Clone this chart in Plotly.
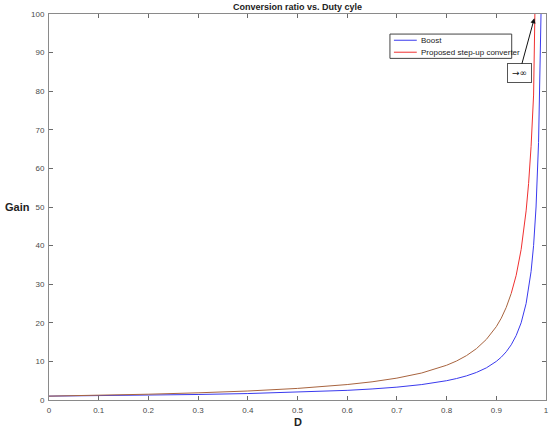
import plotly.graph_objects as go

# duty cycle samples
duty = [0, 0.1, 0.2, 0.3, 0.4, 0.5, 0.6, 0.65, 0.7, 0.75, 0.78, 0.8, 0.82, 0.84,
        0.86, 0.88, 0.9, 0.91, 0.92, 0.93, 0.94, 0.95, 0.96, 0.965, 0.97, 0.975,
        0.98, 0.985, 0.99]
boost_gain = [1.0, 1.11, 1.25, 1.43, 1.67, 2.0, 2.5, 2.86, 3.33, 4.0, 4.55, 5.0, 5.56, 6.25,
              7.14, 8.33, 10.0, 11.1, 12.5, 14.3, 16.7, 20.0, 25.0, 28.6, 33.3, 40.0,
              50.0, 66.7, 100.0]
proposed_gain = [1.0, 1.22, 1.5, 1.86, 2.33, 3.0, 4.0, 4.71, 5.67, 7.0, 8.09, 9.0, 10.1, 11.5,
                 13.3, 15.7, 19.0, 21.2, 24.0, 27.6, 32.3, 39.0, 49.0, 56.1, 65.7, 79.0,
                 99.0, 132.3, 199.0]

x_ticks = [0, 0.1, 0.2, 0.3, 0.4, 0.5, 0.6, 0.7, 0.8, 0.9, 1]
x_tick_text = ["0", "0.1", "0.2", "0.3", "0.4", "0.5", "0.6", "0.7", "0.8", "0.9", "1"]
y_ticks = [0, 10, 20, 30, 40, 50, 60, 70, 80, 90, 100]

series_names = ["Boost", "Proposed step-up converter"]
series_colours = ["#3a3aee", "#f03030"]

font_family = "Liberation Sans, Arial, sans-serif"
split = 19  # index where the proposed curve turns from brown to red

fig = go.Figure()
fig.add_trace(go.Scatter(x=duty, y=boost_gain, name=series_names[0], mode="lines",
                         line=dict(color=series_colours[0], width=1)))
fig.add_trace(go.Scatter(x=duty[split:], y=proposed_gain[split:], name=series_names[1],
                         mode="lines", line=dict(color=series_colours[1], width=1)))
fig.add_trace(go.Scatter(x=duty[:split + 1], y=proposed_gain[:split + 1],
                         mode="lines", line=dict(color="#a8643f", width=1)))

axis_common = dict(showgrid=False, zeroline=False, showline=True, mirror="ticks",
                   linecolor="#8a8a8a", linewidth=1, ticks="inside", ticklen=4,
                   tickcolor="#6a6a6a", tickfont=dict(size=8, color="#4a4a4a"),
                   ticklabelstandoff=2, automargin=False)

fig.update_layout(
    width=550, height=430,
    margin=dict(l=49, r=4, t=14, b=30),
    paper_bgcolor="white", plot_bgcolor="white",
    font=dict(family=font_family, color="#222222"),
    xaxis=dict(range=[0, 1], tickvals=x_ticks, ticktext=x_tick_text, **axis_common),
    yaxis=dict(range=[0, 100], tickvals=y_ticks, **axis_common),
    showlegend=False,
)

# small MATLAB-style legend box
lx0, lx1, ly0, ly1 = 0.686, 0.931, 0.885, 0.948
fig.add_shape(type="rect", xref="paper", yref="paper", x0=lx0, x1=lx1, y0=ly0, y1=ly1,
              line=dict(color="#444444", width=1), fillcolor="white")
for i, (name, colour) in enumerate(zip(series_names, series_colours)):
    ly = ly1 - 0.016 - i * 0.031
    fig.add_shape(type="line", xref="paper", yref="paper", x0=lx0 + 0.008, x1=lx0 + 0.054,
                  y0=ly, y1=ly, line=dict(color=colour, width=1))
    fig.add_annotation(text=name, xref="paper", yref="paper", x=lx0 + 0.059, y=ly,
                       xanchor="left", yanchor="middle", showarrow=False,
                       font=dict(size=8, color="#222222"))

fig.add_annotation(text="<b>Conversion ratio vs. Duty cyle</b>", xref="paper", yref="paper",
                   x=0.5, y=1, xanchor="center", yanchor="bottom", showarrow=False,
                   font=dict(size=9, color="#222222"))
fig.add_annotation(text="<b>Gain</b>", xref="paper", yref="paper", x=0, y=0.5, xshift=-32,
                   xanchor="center", yanchor="middle", showarrow=False,
                   font=dict(size=11, color="#222222"))
fig.add_annotation(text="<b>D</b>", xref="paper", yref="paper", x=0.5, y=0, xanchor="center",
                   yanchor="top", yshift=-14, showarrow=False, font=dict(size=11, color="#222222"))
fig.add_annotation(text="→∞", x=0.9765, y=98.9, xref="x", yref="y", ax=-15, ay=55,
                   showarrow=True, arrowhead=2, arrowsize=1, arrowwidth=1, arrowcolor="#111111",
                   bgcolor="white", bordercolor="#555555", borderwidth=1, borderpad=4,
                   font=dict(size=9, family="DejaVu Sans", color="#111111"))

# the page's default 8px body margin would push the figure off the window
fig.write_html("out.html", config={"displayModeBar": False},
               post_script="document.body.style.margin = '0';")
